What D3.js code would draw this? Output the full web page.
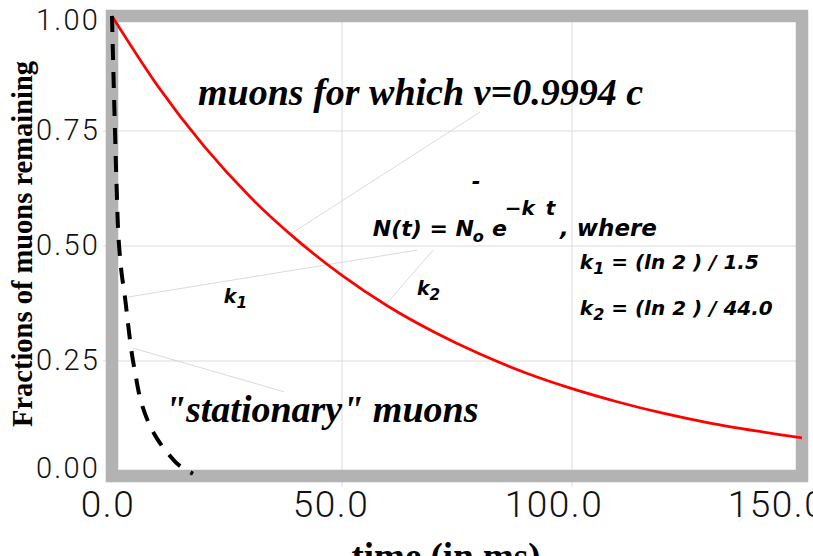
<!DOCTYPE html>
<html>
<head>
<meta charset="utf-8">
<script src="https://cdn.jsdelivr.net/npm/d3@7/dist/d3.min.js"></script>
<style>
  html, body { margin: 0; padding: 0; background: #fff; }
  svg { display: block; }
</style>
</head>
<body>
<svg id="chart" width="813" height="556"></svg>
<script>
// ---- data ----
const xTicks = [0, 50, 100, 150];
const yTicks = [0, 0.25, 0.5, 0.75, 1.0];
const xGrid = [50, 100];
const yGrid = [0.25, 0.5, 0.75];

// moving muons (red, solid)
const movingT = [0, 10, 20, 30, 40, 50, 60, 70, 80, 90, 100, 110, 120, 130, 140, 150];
const movingN = [1.0, 0.847, 0.717, 0.607, 0.515, 0.436, 0.369, 0.313, 0.265, 0.224, 0.19, 0.161, 0.136, 0.115, 0.098, 0.083];

// "stationary" muons (black, dashed)
const statT = [0, 0.3, 0.65, 1.0, 1.5, 2.1, 2.8, 3.5, 4.3, 5.2, 6.1, 8.0, 10.0, 12.5, 15.0, 17.6];
const statN = [1.0, 0.88, 0.75, 0.63, 0.506, 0.44, 0.39, 0.33, 0.267, 0.215, 0.17, 0.115, 0.078, 0.045, 0.02, 0.005];

// annotation leader lines [t1, N1, t2, N2]
const leaders = [
  [39.1, 0.528, 80.0, 0.791],
  [3.48, 0.389, 66.3, 0.491],
  [69.8, 0.491, 59.8, 0.376],
  [4.57, 0.278, 37.4, 0.183]
];

// ---- layout ----
const svg = d3.select("#chart");
const x = d3.scaleLinear().domain([0, 150]).range([112, 802]);
const y = d3.scaleLinear().domain([0, 1]).range([476, 16]);

const tickFont = "Roboto, 'DejaVu Sans', sans-serif";
const serif = "'Liberation Serif', 'DejaVu Serif', serif";
const sans = "'DejaVu Sans', Verdana, sans-serif";

// gridlines
svg.append("g").selectAll("line").data(xGrid).join("line")
  .attr("x1", d => x(d)).attr("x2", d => x(d))
  .attr("y1", y(1) + 2).attr("y2", y(0) + 11)
  .attr("stroke", "#dcdcdc").attr("stroke-width", 1);
svg.append("g").selectAll("line").data(yGrid).join("line")
  .attr("y1", d => y(d)).attr("y2", d => y(d))
  .attr("x1", x(0) - 9).attr("x2", x(150) + 1)
  .attr("stroke", "#dcdcdc").attr("stroke-width", 1);

// frame
svg.append("rect")
  .attr("x", x(0)).attr("y", y(1))
  .attr("width", x(150) - x(0)).attr("height", y(0) - y(1))
  .attr("fill", "none").attr("stroke", "#b3b3b3").attr("stroke-width", 12.5);

// leader lines
svg.append("g").selectAll("line").data(leaders).join("line")
  .attr("x1", d => x(d[0])).attr("y1", d => y(d[1]))
  .attr("x2", d => x(d[2])).attr("y2", d => y(d[3]))
  .attr("stroke", "#d0d0d0").attr("stroke-width", 0.8);

// curves
const line = d3.line().x(d => x(d[0])).y(d => y(d[1])).curve(d3.curveMonotoneX);
svg.append("path")
  .datum(movingT.map((t, i) => [t, movingN[i]]))
  .attr("d", line)
  .attr("fill", "none").attr("stroke", "#ff0000").attr("stroke-width", 2.7);

const lineS = d3.line().x(d => x(d[0])).y(d => y(d[1])).curve(d3.curveMonotoneY);
svg.append("path")
  .datum(statT.map((t, i) => [t, statN[i]]))
  .attr("d", lineS)
  .attr("fill", "none").attr("stroke", "#000").attr("stroke-width", 4)
  .attr("stroke-dasharray", "16,12");

// y tick labels
svg.append("g").selectAll("text").data(yTicks).join("text")
  .attr("x", 100)
  .attr("y", d => Math.min(467, Math.max(19.5, y(d) - 2)) + 10.5)
  .attr("text-anchor", "end")
  .attr("font-family", tickFont).attr("font-weight", 300)
  .attr("font-size", 29).attr("letter-spacing", 2.2).attr("fill", "#111")
  .text(d => d3.format(".2f")(d));

// x tick labels
svg.append("g").selectAll("text").data(xTicks).join("text")
  .attr("x", d => x(d) - (4 + 0.14 * d))
  .attr("y", 517)
  .attr("text-anchor", "middle")
  .attr("font-family", tickFont).attr("font-weight", 300)
  .attr("font-size", 37).attr("letter-spacing", 1.5).attr("fill", "#111")
  .text(d => d3.format(".1f")(d));

// axis titles
svg.append("text")
  .attr("x", 446).attr("y", 569)
  .attr("text-anchor", "middle")
  .attr("font-family", serif).attr("font-weight", "bold")
  .attr("font-size", 37).text("time (in ms)");

svg.append("text")
  .attr("transform", "translate(32,244) rotate(-90)")
  .attr("text-anchor", "middle")
  .attr("font-family", serif).attr("font-weight", "bold")
  .attr("font-size", 28.5).text("Fractions of muons remaining");

// annotations (placed in data coordinates)
svg.append("text")
  .attr("x", x(18.7)).attr("y", y(0.8065))
  .attr("font-family", serif).attr("font-weight", "bold").attr("font-style", "italic")
  .attr("font-size", 38).text("muons for which v=0.9994 c");

svg.append("text")
  .attr("x", x(11.5)).attr("y", y(0.117))
  .attr("font-family", serif).attr("font-weight", "bold").attr("font-style", "italic")
  .attr("font-size", 38).text("\"stationary\" muons");

const f = svg.append("g").attr("font-family", sans).attr("font-weight", "bold").attr("font-style", "italic");
// N(t) = N_o e^{-k t}, where
f.append("text").attr("x", x(56.7)).attr("y", y(0.522)).attr("font-size", 22)
  .text("N(t) = N");
f.append("text").attr("x", x(78.4)).attr("y", y(0.509)).attr("font-size", 16).text("o");
f.append("text").attr("x", x(82.6)).attr("y", y(0.522)).attr("font-size", 22).text("e");
f.append("text").attr("x", x(85.4)).attr("y", y(0.568)).attr("font-size", 20).attr("word-spacing", 4).text("\u2212k t");
f.append("text").attr("x", x(78.2)).attr("y", y(0.625)).attr("font-size", 21).text("-");
f.append("text").attr("x", x(97.4)).attr("y", y(0.522)).attr("font-size", 23).text(", where");

// k1 / k2 definitions
function kText(t, n, sub, rest, size) {
  const tx = f.append("text").attr("x", x(t)).attr("y", y(n)).attr("font-size", size);
  tx.append("tspan").text("k");
  tx.append("tspan").attr("dy", 5).attr("font-size", size * 0.8).text(sub);
  if (rest) tx.append("tspan").attr("dy", -5).text(rest);
}
kText(101.7, 0.451, "1", " = (ln 2 ) / 1.5", 20);
kText(101.7, 0.35, "2", " = (ln 2 ) / 44.0", 20);
kText(24.3, 0.376, "1", null, 19);
kText(66.3, 0.393, "2", null, 19);
</script>
</body>
</html>
